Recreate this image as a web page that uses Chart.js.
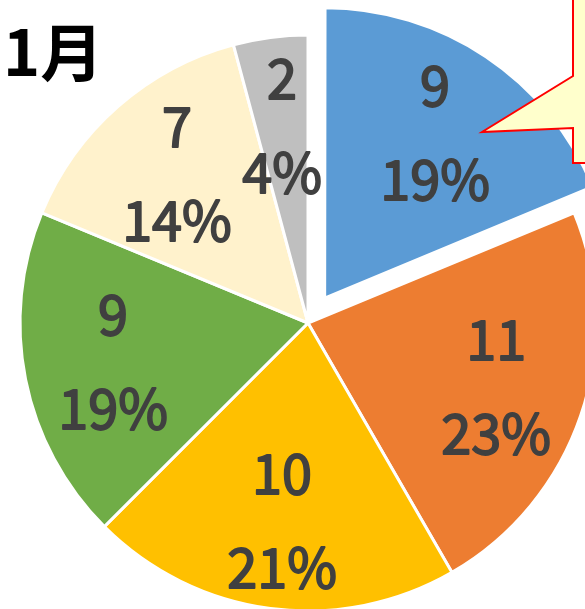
<!DOCTYPE html>
<html>
<head>
<meta charset="utf-8">
<script src="https://cdn.jsdelivr.net/npm/chart.js@4"></script>
<style>
  html, body { margin: 0; padding: 0; width: 585px; height: 609px; overflow: hidden; background: #fff; }
  #wrap { position: absolute; left: 0; top: 0; width: 616px; height: 646px; }
  #title { position: absolute; left: 3px; top: 17px; font: bold 63px "Noto Sans CJK JP", sans-serif; color: #000; line-height: 1; }
</style>
</head>
<body>
<div id="wrap"><canvas id="myChart" width="616" height="646"></canvas></div>
<div id="title">1月</div>
<script>
const categories = ['A', 'B', 'C', 'D', 'E', 'F'];
const values = [9, 11, 10, 9, 7, 2];
const percentLabels = ['19%', '23%', '21%', '19%', '14%', '4%'];
const colors = ['#5B9BD5', '#ED7D31', '#FFC000', '#70AD47', '#FFF2CC', '#BFBFBF'];

const sliceLabels = {
  id: 'sliceLabels',
  afterDatasetsDraw(chart) {
    const c = chart.ctx;
    const meta = chart.getDatasetMeta(0);
    c.save();
    c.fillStyle = '#404040';
    c.strokeStyle = '#404040';
    c.lineWidth = 1.8;
    c.lineJoin = 'round';
    c.font = '54px "Noto Sans CJK JP", sans-serif';
    c.textAlign = 'center';
    c.textBaseline = 'middle';
    meta.data.forEach((arc, i) => {
      const p = arc.getProps(['x', 'y', 'startAngle', 'endAngle', 'outerRadius'], true);
      const mid = (p.startAngle + p.endAngle) / 2;
      const off = (arc.options.offset || 0) / 4;
      const r = p.outerRadius * 0.69 + off;
      const x = p.x + Math.cos(mid) * r;
      const y = p.y + Math.sin(mid) * r;
      [[String(values[i]), y - 47], [percentLabels[i], y + 47]].forEach(([t, ty]) => {
        c.fillText(t, x, ty);
        c.strokeText(t, x, ty);
      });
    });
    c.restore();
  }
};

const callout = {
  id: 'callout',
  afterDraw(chart) {
    const c = chart.ctx;
    c.save();
    c.beginPath();
    c.moveTo(573, -5);
    c.lineTo(573, 76);
    c.lineTo(482, 132);
    c.lineTo(573, 128);
    c.lineTo(573, 163);
    c.lineTo(640, 163);
    c.lineTo(640, -5);
    c.closePath();
    c.fillStyle = '#FFFFCC';
    c.fill();
    c.strokeStyle = '#FF0000';
    c.lineWidth = 2;
    c.stroke();
    c.restore();
  }
};

new Chart(document.getElementById('myChart'), {
  type: 'pie',
  data: {
    labels: categories,
    datasets: [{
      data: values,
      backgroundColor: colors,
      borderColor: '#ffffff',
      borderWidth: 3,
      offset: ctx => ctx.dataIndex === 0 ? 120 : 0
    }]
  },
  options: {
    responsive: false,
    animation: false,
    radius: 288,
    layout: { padding: 0 },
    plugins: {
      legend: { display: false },
      tooltip: { enabled: false }
    },
    events: []
  },
  plugins: [sliceLabels, callout]
});
</script>
</body>
</html>
